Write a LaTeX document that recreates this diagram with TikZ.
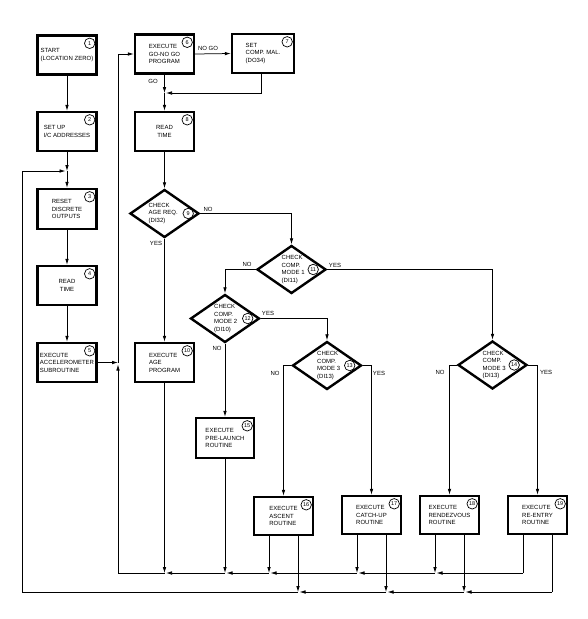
\documentclass[tikz,border=0pt]{standalone}
\usepackage{fontspec}
\setmainfont{Liberation Sans}
\usetikzlibrary{shapes.geometric,arrows.meta}
\begin{document}
\begin{tikzpicture}[x=1pt,y=-1pt,
 txt/.style={font=\fontsize{6}{7.5}\selectfont},
 box/.style={draw, line width=2.4pt, minimum width=59pt, minimum height=39pt, inner sep=0pt, align=left, txt},
 dia/.style={draw, diamond, line width=2.4pt, minimum width=69pt, minimum height=48pt, inner sep=0pt},
 dtxt/.style={txt, align=left, anchor=west, inner sep=0pt},
 num/.style={draw, circle, line width=0.7pt, minimum size=10.5pt, inner sep=0pt, font=\fontsize{5.5}{5.5}\selectfont},
 line/.style={line width=0.75pt},
 conn/.style={line, -{Latex[length=6pt,width=3.6pt]}},
 lbl/.style={txt, inner sep=0pt}]
\fill[white] (0,0) rectangle (588,619);
\useasboundingbox (0,0) rectangle (588,619);

% left column
\node[box] (b1) at (67,55) {START\\(LOCATION ZERO)};
\node[box] (b2) at (67,131.5) {SET UP\\I/C ADDRESSES};
\node[box, minimum height=40pt] (b3) at (67,209) {RESET\\DISCRETE\\OUTPUTS};
\node[box, align=center] (b4) at (67,285.5) {READ\\TIME};
\node[box] (b5) at (67,362.5) {EXECUTE\\ACCELEROMETER\\SUBROUTINE};

% second column
\node[box] (b6) at (164.5,54) {EXECUTE\\GO-NO GO\\PROGRAM};
\node[box, minimum width=62pt] (b7) at (263,53.5) {SET\\COMP. MAL.\\(DO34)};
\node[box, align=center] (b8) at (164.5,131.5) {READ\\TIME};
\node[dia] (d9) at (164.5,213.5) {};
\node[dtxt] (t9) at ([xshift=-16pt]d9.center) {CHECK\\AGE REQ.\\(DI32)};
\node[box] (b10) at (164.5,362.5) {EXECUTE\\AGE\\PROGRAM};

% decisions
\node[dia] (d11) at (291.5,269.5) {};
\node[dtxt] (t11) at ([xshift=-10pt]d11.center) {CHECK\\COMP.\\MODE 1\\(DI11)};
\node[dia] (d12) at (225,318.5) {};
\node[dtxt] (t12) at ([xshift=-11pt]d12.center) {CHECK\\COMP.\\MODE 2\\(DI10)};
\node[dia] (d13) at (327,365.5) {};
\node[dtxt] (t13) at ([xshift=-10pt]d13.center) {CHECK\\COMP.\\MODE 3\\(DI13)};
\node[dia] (d14) at (492.5,365) {};
\node[dtxt] (t14) at ([xshift=-10pt]d14.center) {CHECK\\COMP.\\MODE 3\\(DI13)};

% routines
\node[box, minimum width=58pt, minimum height=40pt] (b15) at (225,438) {EXECUTE\\PRE-LAUNCH\\ROUTINE};
\node[box, minimum height=38pt] (b16) at (283.5,516) {EXECUTE\\ASCENT\\ROUTINE};
\node[box, minimum height=38pt] (b17) at (371.5,515) {EXECUTE\\CATCH-UP\\ROUTINE};
\node[box, minimum height=38pt] (b18) at (449.5,515) {EXECUTE\\RENDEZVOUS\\ROUTINE};
\node[box, minimum height=38pt] (b19) at (537.5,515) {EXECUTE\\RE-ENTRY\\ROUTINE};

% numbers
\node[num] (n1) at ([shift={(-8,9)}]b1.north east) {1};
\node[num] (n2) at ([shift={(-8,9)}]b2.north east) {2};
\node[num] (n3) at ([shift={(-8,9)}]b3.north east) {3};
\node[num] (n4) at ([shift={(-8,9)}]b4.north east) {4};
\node[num] (n5) at ([shift={(-8,9)}]b5.north east) {5};
\node[num] (n6) at ([shift={(-8,9)}]b6.north east) {6};
\node[num] (n7) at ([shift={(-8,9)}]b7.north east) {7};
\node[num] (n8) at ([shift={(-8,9)}]b8.north east) {8};
\node[num] (n9) at ([xshift=-12pt]d9.east) {9};
\node[num] (n10) at ([shift={(-8,9)}]b10.north east) {10};
\node[num] (n11) at ([xshift=-14pt]d11.east) {11};
\node[num] (n12) at ([xshift=-13pt]d12.east) {12};
\node[num] (n13) at ([xshift=-13pt]d13.east) {13};
\node[num] (n14) at ([xshift=-14pt]d14.east) {14};
\node[num] (n15) at ([shift={(-8,9)}]b15.north east) {15};
\node[num] (n16) at ([shift={(-8,9)}]b16.north east) {16};
\node[num] (n17) at ([shift={(-8,9)}]b17.north east) {17};
\node[num] (n18) at ([shift={(-8,9)}]b18.north east) {18};
\node[num] (n19) at ([shift={(-8,9)}]b19.north east) {19};

% junction coordinates
\coordinate (j23) at (67,171);
\coordinate (j68) at (164.5,93);
\coordinate (jv) at (118,362.5);
\coordinate (m19) at (523,573);
\coordinate (m18) at (435,573);
\coordinate (m17) at (357,573);
\coordinate (m16) at (269,573);
\coordinate (m15) at (225,573);
\coordinate (m10) at (164.5,573);
\coordinate (cL) at (118,573);
\coordinate (r19) at (552,592);
\coordinate (r18) at (464,592);
\coordinate (r17) at (386,592);
\coordinate (r16) at (298,592);
\coordinate (cB) at (22,592);
\coordinate (cT) at (22,171);

% left column flow
\draw[conn] (b1.south) -- (b2.north);
\draw[conn] (b2.south) -- (j23);
\draw[conn] (j23) -- (b3.north);
\draw[conn] (b3.south) -- (b4.north);
\draw[conn] (b4.south) -- (b5.north);
\draw[conn] (b5.east) -- (jv);

% second column flow
\draw[conn] (jv) |- (b6.west);
\draw[conn] (b6.east) -- (b7.west);
\draw[conn] (b6.south) -- (j68);
\draw[conn] ([xshift=-2pt]b7.south) |- ([xshift=1.5pt]j68);
\draw[conn] (j68) -- (b8.north);
\draw[conn] (b8.south) -- (d9.north);
\draw[conn] (d9.south) -- (b10.north);
\draw[conn] (d9.east) -| (d11.north);
\draw[conn] (d11.west) -| (d12.north);
\draw[conn] (d11.east) -| (d14.north);
\draw[conn] (d12.east) -| (d13.north);
\draw[conn] (d12.south) -- (b15.north);
\draw[conn] (d13.west) -| (b16.north);
\draw[conn] (d13.east) -| (b17.north);
\draw[conn] (d14.west) -| (b18.north);
\draw[conn] (d14.east) -| (b19.north);

% first return line
\draw[line] ([xshift=-14.5pt]b19.south) -- (m19);
\draw[conn] (m19) -- ([xshift=1.5pt]m18);
\draw[conn] ([xshift=-14.5pt]b18.south) -- (m18);
\draw[conn] (m18) -- ([xshift=1.5pt]m17);
\draw[conn] ([xshift=-14.5pt]b17.south) -- (m17);
\draw[conn] (m17) -- ([xshift=1.5pt]m16);
\draw[conn] ([xshift=-14.5pt]b16.south) -- (m16);
\draw[conn] (m16) -- ([xshift=1.5pt]m15);
\draw[conn] (b15.south) -- (m15);
\draw[conn] (m15) -- ([xshift=1.5pt]m10);
\draw[conn] (b10.south) -- (m10);
\draw[line] (m10) -- (cL);
\draw[conn] (cL) -- ([yshift=-2pt]jv);

% second return line
\draw[line] ([xshift=14.5pt]b19.south) -- (r19);
\draw[conn] (r19) -- ([xshift=1.5pt]r18);
\draw[conn] ([xshift=14.5pt]b18.south) -- (r18);
\draw[conn] (r18) -- ([xshift=1.5pt]r17);
\draw[conn] ([xshift=14.5pt]b17.south) -- (r17);
\draw[conn] (r17) -- ([xshift=1.5pt]r16);
\draw[conn] ([xshift=14.5pt]b16.south) -- (r16);
\draw[conn] (r16) -- (cB) -- (cT) -- ([xshift=-1.5pt]j23);

% labels
\node[lbl] (lnogo) at (208,48) {NO GO};
\node[lbl] (lgo) at (153,81) {GO};
\node[lbl] (l9n) at (208,209) {NO};
\node[lbl] (l9y) at (156,243) {YES};
\node[lbl] (l11n) at (247,264) {NO};
\node[lbl] (l11y) at (335,265) {YES};
\node[lbl] (l12n) at (217,348) {NO};
\node[lbl] (l12y) at (268,313) {YES};
\node[lbl] (l13n) at (275,373) {NO};
\node[lbl] (l13y) at (379,373) {YES};
\node[lbl] (l14n) at (440,372) {NO};
\node[lbl] (l14y) at (546,372) {YES};
\end{tikzpicture}
\end{document}
